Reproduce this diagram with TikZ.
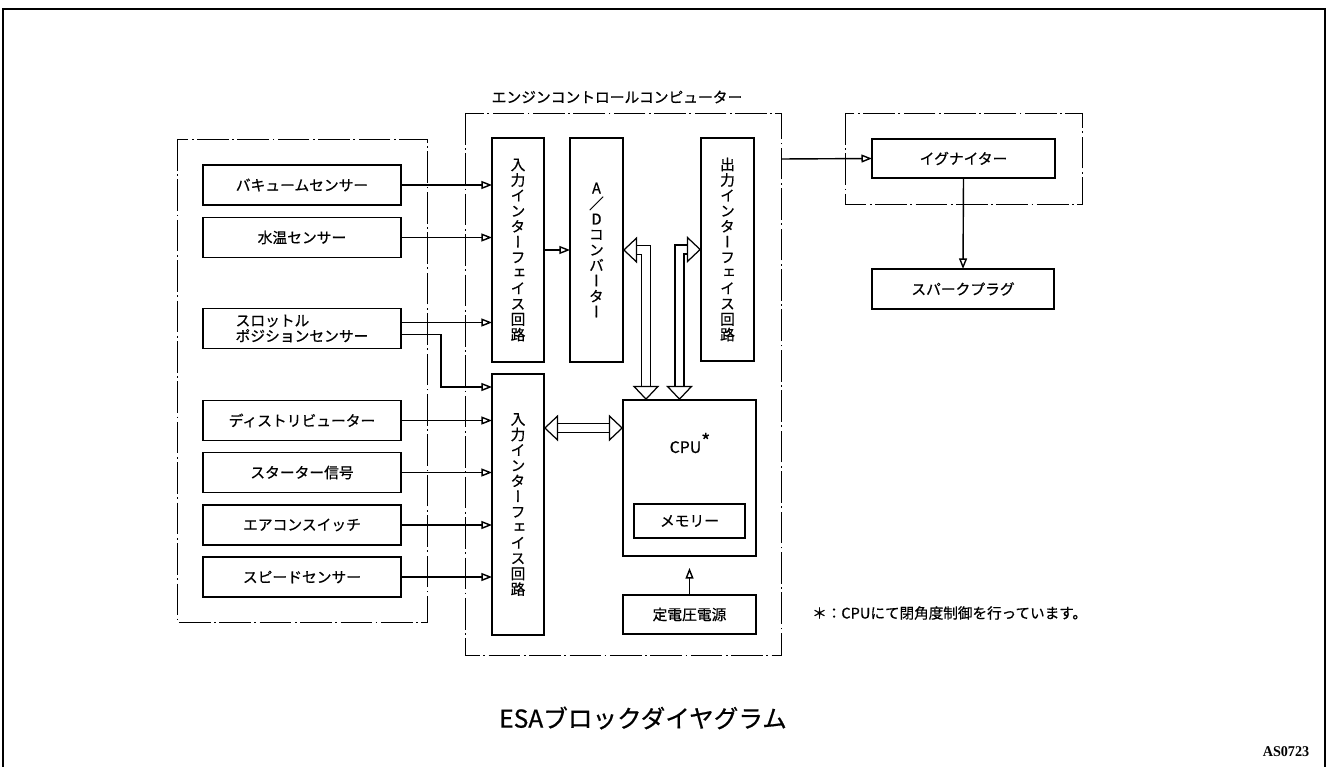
\documentclass[tikz,border=0pt]{standalone}
\usepackage{fontspec}
\setmainfont{Noto Sans CJK JP}[FakeBold=0.6]
\newfontfamily\vjp[RawFeature=+vert,FakeBold=0.6]{Noto Sans CJK JP}
\newfontfamily\codefont{Liberation Serif}
\usetikzlibrary{positioning,arrows.meta,calc}

\tikzset{
  box/.style={draw,line width=0.9pt,inner sep=0pt,outer sep=0pt},
  sensor/.style={box,minimum width=3.96cm,minimum height=0.8cm,font=\fontsize{8.4}{8.8}\selectfont},
  vbox/.style={box,minimum width=1.04cm,align=center,font=\vjp\fontsize{8.4}{8.8}\selectfont},
  group/.style={line width=0.5pt,dash pattern=on 18pt off 2pt on 1pt off 2pt},
  sig/.style={line width=0.8pt,-{Triangle[open,length=6pt,width=4.5pt]}},
  bus/.style={line width=0.7pt,double distance=4.5pt,
    {Triangle[open,length=8pt,width=15pt]}-{Triangle[open,length=8pt,width=15pt]}},
}

\begin{document}
\begin{tikzpicture}[x=0.02cm,y=-0.02cm]
    \useasboundingbox (0,0) rectangle (1329,767);
    \draw[line width=1.1pt] (3,767) -- (3,9) -- (1325,9) -- (1325,767);

    \draw[group] (177,139) rectangle (427,622);
    \draw[group] (465,113) rectangle (781,655);
    \draw[group] (845,113) rectangle (1082,204);
    \node[font=\fontsize{8.4}{10}\selectfont] (ecutitle) at (617,97) {エンジンコントロールコンピューター};

    \node[sensor] (vac) at (302,185) {バキュームセンサー};
    \node[sensor] (wat) at (302,237.5) {水温センサー};
    \node[sensor,align=left] (thr) at (302,328.5) {スロットル\\ポジションセンサー};
    \node[sensor] (dist) at (302,420.5) {ディストリビューター};
    \node[sensor] (sta) at (302,472.5) {スターター信号};
    \node[sensor] (aircon) at (302,525) {エアコンスイッチ};
    \node[sensor] (spd) at (302,577) {スピードセンサー};

    \node[vbox,minimum height=4.48cm] (if1) at (518,250) {入\\力\\イ\\ン\\タ\\ー\\フ\\ェ\\イ\\ス\\回\\路};
    \node[vbox,minimum height=5.22cm] (if2) at (518,504.5) {入\\力\\イ\\ン\\タ\\ー\\フ\\ェ\\イ\\ス\\回\\路};
    \node[vbox,minimum width=1.06cm,minimum height=4.48cm] (ad) at (596.5,250) {{\rmfamily A}\\{\rmfamily ／}\\{\rmfamily D}\\コ\\ン\\バ\\ー\\タ\\ー};
    \node[vbox,minimum width=1.06cm,minimum height=4.46cm] (outif) at (727.5,249.5) {出\\力\\イ\\ン\\タ\\ー\\フ\\ェ\\イ\\ス\\回\\路};

    \node[box,minimum width=2.66cm,minimum height=3.12cm] (cpu) at (689.5,478) {};
    \node[font=\fontsize{9}{10}\selectfont] (cpulabel) at (690,443) {CPU\raisebox{0.3em}{\fontsize{11}{11}\selectfont *}};
    \node[box,minimum width=2.22cm,minimum height=0.68cm,font=\fontsize{8.4}{10}\selectfont] (mem) at (689.5,521) {メモリー};
    \node[box,minimum width=2.66cm,minimum height=0.78cm,font=\fontsize{8.4}{10}\selectfont] (pwr) at (689.5,614.5) {定電圧電源};

    \node[sensor,minimum width=3.66cm,minimum height=0.78cm] (ign) at (963.5,158.5) {イグナイター};
    \node[sensor,minimum width=3.64cm] (plug) at (963,289) {スパークプラグ};

    \coordinate (ecuout) at (781,159);
    \coordinate (thrbend) at (441,387);

    \draw[sig] (vac.east) -- (vac.east -| if1.west);
    \draw[sig] (wat.east) -- (wat.east -| if1.west);
    \draw[sig] ([yshift=0.12cm]thr.east) -- ([yshift=0.12cm]thr.east -| if1.west);
    \draw[sig] ([yshift=-0.12cm]thr.east) -| (thrbend) -- (thrbend -| if2.west);
    \foreach \s in {dist,sta,aircon,spd}
        \draw[sig] (\s.east) -- (\s.east -| if2.west);
    \draw[sig] (if1.east) -- (ad.west);
    \draw[sig] (ecuout) -- (ign.west);
    \draw[sig] (ign.south) -- (plug.north);
    \draw[sig,shorten >=0.24cm] (pwr.north) -- (cpu.south);

    \draw[bus] (ad.east) -| ([xshift=0.46cm]cpu.north west);
    \draw[bus] (outif.west) -| ([xshift=-0.2cm]cpu.north);
    \draw[bus] ([yshift=1.53cm]if2.east) -- ([yshift=1.53cm]if2.east -| cpu.west);

    \node[font=\fontsize{8.3}{10}\selectfont,anchor=west] (note) at (806,613) {＊：CPUにて閉角度制御を行っています。};
    \node[font=\fontsize{14}{16}\selectfont] (caption) at (643,718) {ESAブロックダイヤグラム};
    \node[font=\codefont\bfseries\fontsize{8.5}{9}\selectfont] (code) at (1286,752) {\scalebox{0.95}[1]{AS0723}};
\end{tikzpicture}
\end{document}
